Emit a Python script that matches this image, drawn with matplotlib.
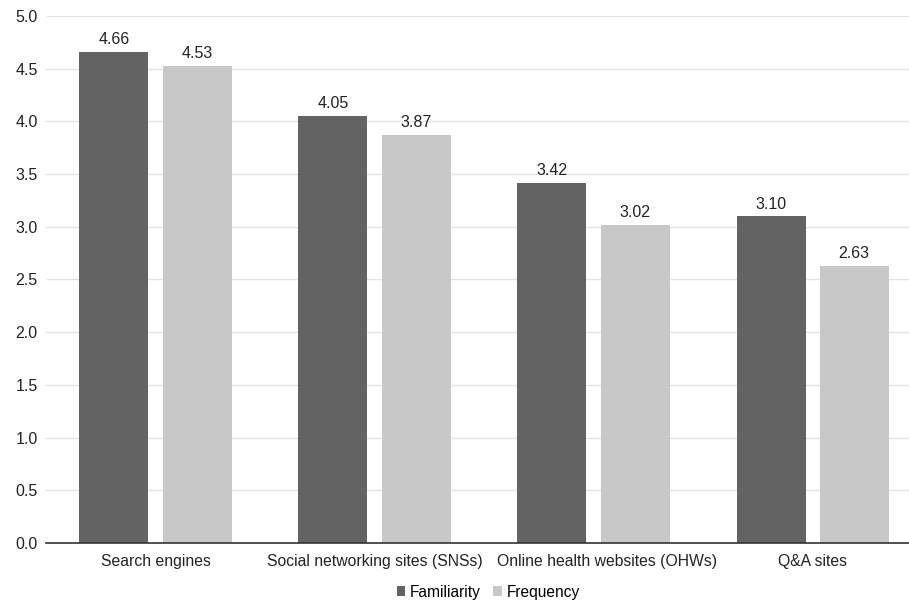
import matplotlib
matplotlib.use("Agg")
import matplotlib.pyplot as plt
import matplotlib.transforms as mtransforms
import numpy as np

plt.rcParams['font.family'] = ['Liberation Sans', 'DejaVu Sans']

categories = ["Search engines", "Social networking sites (SNSs)",
              "Online health websites (OHWs)", "Q&A sites"]
familiarity = [4.66, 4.05, 3.42, 3.10]
frequency = [4.53, 3.87, 3.02, 2.63]
yticks = [0.0, 0.5, 1.0, 1.5, 2.0, 2.5, 3.0, 3.5, 4.0, 4.5, 5.0]

dark = "#636363"
light = "#c8c8c8"

fig = plt.figure(figsize=(9.09, 6.03), dpi=100)
ax = fig.add_axes([0.0506, 0.0995, 0.9494, 0.874])

x = np.arange(len(categories))
w = 0.315
off = 0.19
b1 = ax.bar(x - off, familiarity, w, color=dark, label="Familiarity", zorder=3)
b2 = ax.bar(x + off, frequency, w, color=light, label="Frequency", zorder=3)

for bars, vals in ((b1, familiarity), (b2, frequency)):
    for rect, v in zip(bars, vals):
        ax.text(rect.get_x() + rect.get_width() / 2, v + 0.045, f"{v:.2f}",
                ha="center", va="bottom", fontsize=11.5, color="#222222")

ax.set_xlim(-0.5, 3.44)
ax.set_ylim(0, 5.0)
ax.set_yticks(yticks)
ax.set_yticklabels([f"{t:.1f}" for t in yticks])
ax.set_xticks(x)
ax.set_xticklabels(categories)
ax.tick_params(axis="both", length=0, labelsize=11.5, colors="#222222")
ax.tick_params(axis="x", labelsize=11.3, pad=8)
ax.tick_params(axis="y", pad=6)

# nudge the third category label right so it clears its neighbour
lbl = ax.get_xticklabels()[2]
lbl.set_transform(lbl.get_transform() +
                  mtransforms.ScaledTranslation(13 / 100, 0, fig.dpi_scale_trans))

ax.yaxis.grid(True, color="#e3e3e3", linewidth=1, zorder=0)
for s in ("top", "right", "left"):
    ax.spines[s].set_visible(False)
ax.spines["bottom"].set_color("#333333")
ax.spines["bottom"].set_linewidth(1.2)
ax.spines["bottom"].set_zorder(4)

fig.legend(handles=[b1, b2], loc="center", bbox_to_anchor=(0.537, 0.018),
           ncol=2, frameon=False, fontsize=11.2, handlelength=0.55,
           handleheight=0.55, handletextpad=0.3, columnspacing=0.8,
           borderpad=0)

fig.savefig("out.png", dpi=100)
